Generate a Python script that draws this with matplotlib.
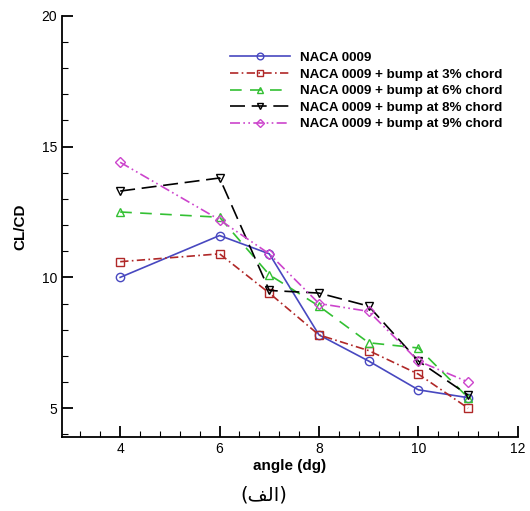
import matplotlib
matplotlib.use("Agg")
import matplotlib.pyplot as plt
from matplotlib.ticker import MultipleLocator

plt.rcParams['font.family'] = ['Liberation Sans', 'DejaVu Sans']

# data
angle = [4, 6, 7, 8, 9, 10, 11]
naca = [10.0, 11.6, 10.9, 7.8, 6.8, 5.7, 5.4]
bump3 = [10.6, 10.9, 9.4, 7.8, 7.2, 6.3, 5.0]
bump6 = [12.5, 12.3, 10.1, 8.9, 7.5, 7.3, 5.4]
bump8 = [13.3, 13.8, 9.5, 9.4, 8.9, 6.8, 5.5]
bump9 = [14.4, 12.2, 10.9, 9.0, 8.7, 6.8, 6.0]

labels = ["NACA 0009",
          "NACA 0009 + bump at 3% chord",
          "NACA 0009 + bump at 6% chord",
          "NACA 0009 + bump at 8% chord",
          "NACA 0009 + bump at 9% chord"]

fig = plt.figure(figsize=(5.3, 5.11), dpi=100)
ax = fig.add_axes([0.117, 0.145, 0.86, 0.824])

ax.plot(angle, naca, color='#4848c0', ls='-', marker='o', mfc='none', ms=6, lw=1.2, label=labels[0])
ax.plot(angle, bump3, color='#b02828', ls=(0, (5, 2, 1, 2)), marker='s', mfc='none', ms=6, lw=1.2, label=labels[1])
ax.plot(angle, bump6, color='#33c033', ls=(0, (7, 5)), marker='^', mfc='none', ms=6, lw=1.2, label=labels[2])
ax.plot(angle, bump8, color='black', ls=(0, (9, 4)), marker='v', mfc='none', ms=6, lw=1.2, label=labels[3])
ax.plot(angle, bump9, color='#cc44cc', ls=(0, (6, 2, 1, 2, 1, 2)), marker='D', mfc='none', ms=5.5, lw=1.2, label=labels[4])

ax.set_xlim(2.83, 12)
ax.set_ylim(3.9, 20)
ax.xaxis.set_major_locator(MultipleLocator(2))
ax.xaxis.set_minor_locator(MultipleLocator(0.4))
ax.yaxis.set_major_locator(MultipleLocator(5))
ax.yaxis.set_minor_locator(MultipleLocator(1))
ax.spines['top'].set_visible(False)
ax.spines['right'].set_visible(False)
ax.spines['left'].set_linewidth(1.3)
ax.spines['bottom'].set_linewidth(1.3)
ax.tick_params(which='major', direction='in', length=8, width=1.3, labelsize=10)
ax.tick_params(which='minor', direction='in', length=4, width=0.8)

ax.set_xlabel("angle (dg)", fontsize=11, fontweight='bold', labelpad=2)
ax.set_ylabel("CL/CD", fontsize=11, fontweight='bold', labelpad=10)

ax.legend(loc='upper left', bbox_to_anchor=(223 / 530, 1 - 45 / 511),
          bbox_transform=fig.transFigure, frameon=False, borderpad=0,
          handlelength=4.5, prop={'weight': 'bold', 'size': 9.6},
          labelspacing=0.32, handletextpad=0.75, markerscale=0.8)

# "(الف)" with shaped Arabic letters laid out left to right
fig.text(0.497, 0.032, "(\uFED2\uFEDF\u0627)", ha='center', va='center',
         fontsize=14, family=['DejaVu Sans'])

fig.savefig("out.png", dpi=100)
